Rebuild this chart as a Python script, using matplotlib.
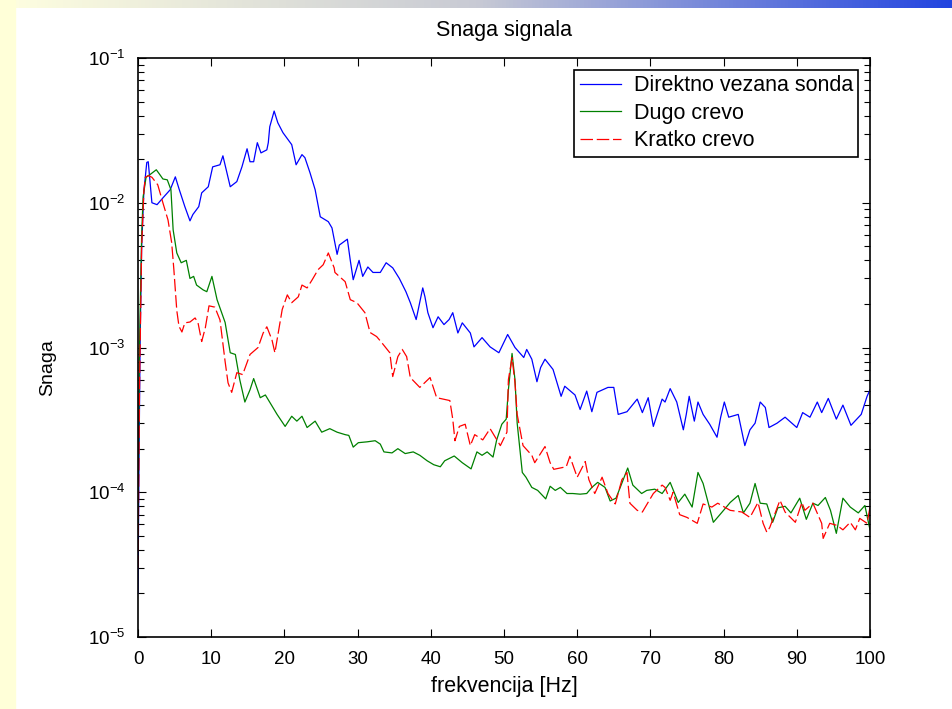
import numpy as np
import matplotlib
matplotlib.use("Agg")
import matplotlib.pyplot as plt
from matplotlib.colors import LinearSegmentedColormap
from matplotlib.patches import Rectangle
from matplotlib.ticker import LogLocator, NullFormatter

plt.rcParams['font.family'] = ['Liberation Sans', 'DejaVu Sans']
plt.rcParams['mathtext.fontset'] = 'custom'
plt.rcParams['mathtext.rm'] = 'Liberation Sans'

# (frequency [Hz], power) pairs
direktno = [
    (0, 2.0e-5), (0.15, 2.0e-4), (0.3, 1.2e-3), (0.5, 5.0e-3), (0.8, 1.2e-2), (1.2, 1.9e-2),
    (1.4, 1.92e-2), (1.9, 1.0e-2), (2.6, 0.97e-2), (3.4, 1.08e-2), (4.4, 1.23e-2), (5.1, 1.51e-2),
    (5.6, 1.25e-2), (6.4, 0.94e-2), (7.1, 0.75e-2), (7.5, 0.83e-2), (8.3, 0.94e-2), (8.7, 1.17e-2),
    (9.6, 1.29e-2), (10.2, 1.77e-2), (11.2, 1.83e-2), (11.6, 2.11e-2), (12.6, 1.29e-2), (13.5, 1.40e-2),
    (14.2, 1.77e-2), (14.9, 2.36e-2), (15.3, 1.92e-2), (15.8, 1.92e-2), (16.3, 2.60e-2), (16.8, 2.21e-2),
    (17.6, 2.32e-2), (17.8, 2.60e-2), (18.0, 3.35e-2), (18.6, 4.3e-2), (19.1, 3.57e-2), (19.8, 3.05e-2),
    (21.0, 2.52e-2), (21.6, 1.83e-2), (22.4, 2.15e-2), (22.8, 2.05e-2), (23.5, 1.61e-2), (24.2, 1.23e-2),
    (24.9, 0.80e-2), (26.0, 0.74e-2), (26.5, 0.67e-2), (27.2, 0.44e-2), (27.5, 0.51e-2), (28.6, 0.56e-2),
    (29.0, 0.40e-2), (29.4, 0.294e-2), (30.2, 0.40e-2), (30.7, 0.31e-2), (31.4, 0.36e-2), (32.1, 0.33e-2),
    (33.1, 0.33e-2), (33.9, 0.385e-2), (34.8, 0.355e-2), (35.7, 0.30e-2), (36.6, 0.243e-2), (37.2, 0.204e-2),
    (38.0, 0.156e-2), (38.9, 0.258e-2), (39.2, 0.224e-2), (39.6, 0.174e-2), (40.3, 0.137e-2), (41.0, 0.163e-2),
    (41.8, 0.144e-2), (42.5, 0.156e-2), (43.0, 0.174e-2), (43.7, 0.126e-2), (44.3, 0.148e-2), (45.4, 0.126e-2),
    (45.9, 0.101e-2), (47.0, 0.117e-2), (48.1, 0.101e-2), (49.3, 0.92e-3), (50.5, 1.23e-3), (51.5, 1.0e-3),
    (52.7, 0.853e-3), (53.1, 0.97e-3), (53.8, 0.83e-3), (54.5, 0.58e-3), (55.0, 0.727e-3), (55.6, 0.83e-3),
    (56.7, 0.705e-3), (57.8, 0.46e-3), (58.3, 0.54e-3), (59.7, 0.47e-3), (60.4, 0.373e-3), (61.3, 0.50e-3),
    (62.0, 0.36e-3), (62.7, 0.49e-3), (64.2, 0.53e-3), (65.0, 0.53e-3), (65.6, 0.345e-3), (66.8, 0.36e-3),
    (68.2, 0.44e-3), (68.9, 0.355e-3), (69.7, 0.45e-3), (70.4, 0.285e-3), (71.6, 0.44e-3), (72.0, 0.42e-3),
    (72.7, 0.52e-3), (73.6, 0.42e-3), (74.5, 0.27e-3), (74.9, 0.345e-3), (75.3, 0.46e-3), (76.0, 0.31e-3),
    (76.5, 0.42e-3), (77.2, 0.345e-3), (78.1, 0.295e-3), (79.1, 0.24e-3), (79.6, 0.33e-3), (80.1, 0.42e-3),
    (80.7, 0.33e-3), (82.0, 0.345e-3), (82.9, 0.21e-3), (83.6, 0.27e-3), (84.3, 0.30e-3), (85.0, 0.42e-3),
    (85.7, 0.385e-3), (86.2, 0.28e-3), (87.3, 0.30e-3), (88.4, 0.33e-3), (90.0, 0.28e-3), (90.8, 0.355e-3),
    (91.8, 0.33e-3), (92.8, 0.42e-3), (93.4, 0.355e-3), (94.3, 0.445e-3), (95.4, 0.32e-3), (96.3, 0.40e-3),
    (97.4, 0.29e-3), (98.8, 0.345e-3), (99.6, 0.46e-3), (100, 0.51e-3),
]

dugo = [
    (0, 6e-5), (0.2, 1e-3), (0.5, 6e-3), (0.7, 1.1e-2), (1.1, 1.5e-2), (1.6, 1.56e-2), (2.5, 1.69e-2),
    (3.0, 1.56e-2), (3.4, 1.46e-2), (4.0, 1.44e-2), (4.5, 1.23e-2), (4.8, 0.65e-2), (5.3, 0.45e-2),
    (5.9, 0.385e-2), (6.6, 0.40e-2), (7.1, 0.30e-2), (7.6, 0.31e-2), (8.0, 0.27e-2), (8.9, 0.25e-2),
    (9.4, 0.243e-2), (10.1, 0.31e-2), (10.8, 0.214e-2), (11.9, 0.149e-2), (12.6, 0.92e-3), (13.3, 0.895e-3),
    (13.9, 0.60e-3), (14.6, 0.42e-3), (15.3, 0.51e-3), (15.8, 0.61e-3), (16.7, 0.45e-3), (17.4, 0.47e-3),
    (19.0, 0.345e-3), (20.1, 0.285e-3), (21.0, 0.335e-3), (21.7, 0.31e-3), (22.4, 0.335e-3), (23.1, 0.28e-3),
    (24.2, 0.31e-3), (25.1, 0.26e-3), (26.2, 0.275e-3), (27.2, 0.26e-3), (28.3, 0.25e-3), (28.8, 0.247e-3),
    (29.4, 0.205e-3), (30.1, 0.22e-3), (31.3, 0.223e-3), (32.4, 0.227e-3), (33.1, 0.215e-3), (33.6, 0.19e-3),
    (34.7, 0.187e-3), (35.5, 0.20e-3), (36.5, 0.185e-3), (37.6, 0.19e-3), (38.5, 0.18e-3), (39.5, 0.165e-3),
    (40.4, 0.155e-3), (41.3, 0.15e-3), (41.9, 0.165e-3), (43.2, 0.178e-3), (44.3, 0.16e-3), (45.5, 0.145e-3),
    (46.3, 0.19e-3), (47.0, 0.18e-3), (47.7, 0.19e-3), (48.5, 0.175e-3), (49.0, 0.23e-3), (49.7, 0.295e-3),
    (50.3, 0.32e-3), (50.6, 0.51e-3), (51.1, 0.91e-3), (51.5, 0.60e-3), (51.8, 0.30e-3), (52.5, 0.137e-3),
    (53.0, 0.127e-3), (53.8, 0.108e-3), (54.6, 0.103e-3), (55.7, 0.09e-3), (56.3, 0.11e-3), (57.0, 0.103e-3),
    (57.7, 0.108e-3), (58.6, 0.098e-3), (59.4, 0.098e-3), (60.4, 0.097e-3), (61.3, 0.098e-3), (62.0, 0.108e-3),
    (62.8, 0.117e-3), (63.8, 0.108e-3), (64.5, 0.087e-3), (65.3, 0.091e-3), (66.0, 0.112e-3), (66.9, 0.147e-3),
    (67.6, 0.112e-3), (68.8, 0.098e-3), (69.5, 0.103e-3), (70.6, 0.105e-3), (71.6, 0.098e-3), (72.7, 0.117e-3),
    (73.8, 0.085e-3), (74.7, 0.097e-3), (75.7, 0.079e-3), (76.5, 0.137e-3), (77.2, 0.115e-3), (78.6, 0.062e-3),
    (79.8, 0.073e-3), (80.9, 0.085e-3), (82.0, 0.095e-3), (82.7, 0.072e-3), (83.6, 0.084e-3), (84.3, 0.115e-3),
    (85.0, 0.084e-3), (85.9, 0.083e-3), (86.7, 0.062e-3), (87.4, 0.078e-3), (88.4, 0.08e-3), (89.2, 0.072e-3),
    (90.4, 0.091e-3), (91.3, 0.065e-3), (92.2, 0.084e-3), (92.9, 0.081e-3), (93.9, 0.092e-3), (94.6, 0.075e-3),
    (95.4, 0.052e-3), (96.3, 0.091e-3), (97.3, 0.079e-3), (98.4, 0.072e-3), (99.3, 0.081e-3), (100, 0.055e-3),
]

kratko = [
    (0, 3e-5), (0.2, 5e-4), (0.5, 5e-3), (0.8, 1.2e-2), (1.0, 1.5e-2), (1.4, 1.54e-2), (1.9, 1.5e-2),
    (2.7, 1.33e-2), (3.4, 1.0e-2), (4.1, 0.76e-2), (4.6, 0.53e-2), (4.9, 0.345e-2), (5.3, 0.18e-2),
    (5.6, 0.14e-2), (6.0, 0.128e-2), (6.4, 0.148e-2), (7.1, 0.15e-2), (7.8, 0.16e-2), (8.2, 0.148e-2),
    (8.7, 0.11e-2), (9.2, 0.137e-2), (9.7, 0.194e-2), (10.5, 0.19e-2), (11.2, 0.155e-2), (11.5, 0.117e-2),
    (11.9, 0.8e-3), (12.3, 0.57e-3), (12.8, 0.49e-3), (13.5, 0.67e-3), (14.3, 0.65e-3), (15.3, 0.895e-3),
    (16.4, 1.0e-3), (17.1, 1.26e-3), (17.6, 1.39e-3), (18.3, 1.13e-3), (18.7, 0.92e-3), (19.7, 1.83e-3),
    (20.4, 2.31e-3), (21.0, 2.04e-3), (21.9, 2.24e-3), (22.4, 2.7e-3), (23.1, 2.58e-3), (23.8, 2.94e-3),
    (24.6, 3.45e-3), (25.3, 3.73e-3), (26.0, 4.5e-3), (26.8, 3.55e-3), (26.9, 3.3e-3), (28.3, 2.85e-3),
    (29.0, 2.14e-3), (29.9, 2.04e-3), (31.0, 1.74e-3), (31.7, 1.27e-3), (32.6, 1.19e-3), (33.3, 1.08e-3),
    (34.4, 0.92e-3), (34.8, 0.63e-3), (35.5, 0.865e-3), (36.1, 0.97e-3), (36.7, 0.865e-3), (37.2, 0.62e-3),
    (38.5, 0.53e-3), (39.9, 0.62e-3), (40.8, 0.45e-3), (42.6, 0.43e-3), (43.0, 0.32e-3), (43.3, 0.227e-3),
    (43.9, 0.285e-3), (44.7, 0.295e-3), (45.4, 0.21e-3), (46.0, 0.25e-3), (47.1, 0.23e-3), (48.1, 0.275e-3),
    (49.5, 0.21e-3), (50.4, 0.26e-3), (50.6, 0.60e-3), (51.1, 0.85e-3), (51.5, 0.57e-3), (51.8, 0.345e-3),
    (52.6, 0.21e-3), (53.8, 0.18e-3), (54.2, 0.16e-3), (55.6, 0.207e-3), (56.3, 0.16e-3), (56.8, 0.144e-3),
    (58.5, 0.15e-3), (59.0, 0.177e-3), (60.0, 0.127e-3), (61.1, 0.163e-3), (61.6, 0.122e-3), (62.4, 0.098e-3),
    (63.4, 0.127e-3), (64.2, 0.098e-3), (65.2, 0.083e-3), (66.1, 0.122e-3), (66.8, 0.137e-3), (67.2, 0.084e-3),
    (68.2, 0.075e-3), (68.9, 0.073e-3), (70.4, 0.098e-3), (71.6, 0.112e-3), (72.0, 0.108e-3), (72.7, 0.088e-3),
    (73.1, 0.1e-3), (74.0, 0.07e-3), (75.0, 0.067e-3), (76.4, 0.061e-3), (77.2, 0.083e-3), (78.4, 0.079e-3),
    (79.2, 0.084e-3), (80.9, 0.075e-3), (82.5, 0.073e-3), (83.6, 0.067e-3), (84.7, 0.085e-3), (85.4, 0.061e-3),
    (85.9, 0.053e-3), (86.3, 0.057e-3), (87.7, 0.088e-3), (88.4, 0.073e-3), (89.8, 0.062e-3), (90.7, 0.085e-3),
    (91.1, 0.075e-3), (92.2, 0.084e-3), (93.4, 0.061e-3), (93.6, 0.048e-3), (94.5, 0.061e-3), (95.5, 0.059e-3),
    (96.3, 0.055e-3), (97.3, 0.062e-3), (98.0, 0.055e-3), (98.6, 0.066e-3), (99.6, 0.061e-3), (100, 0.079e-3),
]

labels = ["Direktno vezana sonda", "Dugo crevo", "Kratko crevo"]
xticks = np.arange(0, 101, 10)

fig = plt.figure(figsize=(9.52, 7.09), dpi=100)
fig.patch.set_facecolor('white')

# slide decoration: pale yellow strip on the left, gradient bar on top
fig.patches.append(Rectangle((0, 0), 15 / 952, 1, transform=fig.transFigure,
                             color='#FFFFD8', zorder=0))
gax = fig.add_axes([0, 1 - 8 / 709, 1, 8 / 709])
bar_cmap = LinearSegmentedColormap.from_list('bar', ['#FFFFE0', '#C8CAD4', '#2244E0'])
gax.imshow(np.linspace(0, 1, 256)[None, :], aspect='auto', cmap=bar_cmap)
gax.axis('off')

ax = fig.add_axes([138 / 952, 1 - 637 / 709, 732 / 952, 579 / 709])

f, p = np.array(direktno).T
ax.plot(f, p, color='#0000FF', lw=0.9, label=labels[0])
f, p = np.array(dugo).T
ax.plot(f, p, color='#008000', lw=0.9, label=labels[1])
f, p = np.array(kratko).T
ax.plot(f, p, color='#FF0000', lw=0.9, dashes=(10, 3), label=labels[2])

ax.set_yscale('log')
ax.set_xlim(0, 100)
ax.set_ylim(1e-5, 1e-1)
ax.set_xticks(xticks)
ax.yaxis.set_major_locator(LogLocator(base=10, numticks=10))
ax.yaxis.set_minor_locator(LogLocator(base=10, subs=np.arange(2, 10), numticks=10))
ax.yaxis.set_minor_formatter(NullFormatter())
ax.tick_params(which='both', direction='in', top=True, right=True, labelsize=13.5, width=0.8)
ax.tick_params(which='major', length=6)
ax.tick_params(which='minor', length=4)
ax.tick_params(axis='x', pad=10)
ax.tick_params(axis='y', pad=9)
for s in ax.spines.values():
    s.set_linewidth(1.2)

ax.set_title("Snaga signala", fontsize=15.5, pad=16)
ax.set_xlabel("frekvencija [Hz]", fontsize=15.5, labelpad=6)
ax.set_ylabel("Snaga", fontsize=14)
ax.yaxis.set_label_coords(-0.112, 0.465)

leg = ax.legend(loc='upper right', fontsize=15.5, frameon=True, fancybox=False,
                edgecolor='black', framealpha=1, borderpad=0.25, handlelength=1.9,
                handletextpad=0.6, labelspacing=0.3, borderaxespad=0.55)
leg.get_frame().set_linewidth(1.2)

fig.savefig('out.png', dpi=100)
